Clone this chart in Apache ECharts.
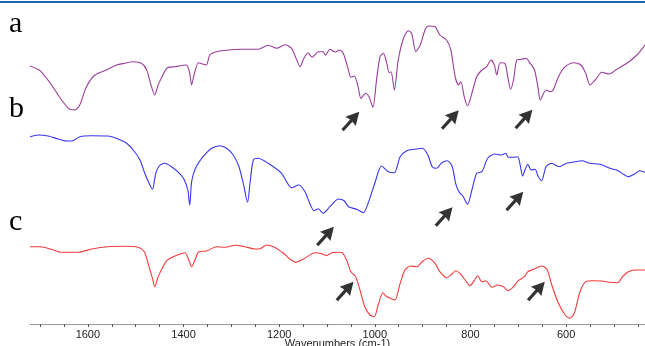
<!DOCTYPE html>
<html>
<head>
<meta charset="utf-8">
<script src="https://cdn.jsdelivr.net/npm/echarts@6/dist/echarts.min.js"></script>
<style>
  html, body { margin: 0; padding: 0; background: #fff; }
  #chart { width: 645px; height: 346px; }
</style>
</head>
<body>
<div id="chart"></div>
<script>
// wavenumber (cm-1), offset transmittance (stacked as in the figure)
const spectrumA = [
  [1721, 258], [1700, 253.3], [1676, 239], [1655, 224], [1638, 214.7], [1627, 214], [1617, 219],
  [1603, 237.3], [1585, 249], [1561, 254], [1540, 259], [1523, 260.7], [1505, 262.3], [1488, 260.7],
  [1477, 254], [1468, 239], [1460, 229], [1453, 239], [1435, 255.7], [1418, 257.3], [1394, 259],
  [1387, 250.7], [1383, 239], [1378, 249], [1369, 261.3], [1359, 259.7], [1352, 259], [1345, 269],
  [1331, 272.3], [1306, 274], [1278, 274.7], [1244, 274.7], [1223, 278.7], [1205, 275.7], [1188, 279.3],
  [1174, 275.7], [1166, 267.3], [1156, 257.3], [1150, 264], [1140, 271.3], [1131, 266.7], [1118, 272.3],
  [1108, 272.3], [1103, 268.7], [1094, 274.7], [1083, 272], [1073, 274], [1066, 270.7], [1057, 257.3],
  [1050, 246.7], [1043, 248], [1035, 237.3], [1029, 225.7], [1019, 230.7], [1012, 227.3], [1004, 216.7],
  [996, 245.7], [989, 267.3], [982, 270.7], [975, 260.7], [970, 251.3], [966, 252.3], [959, 234],
  [951, 264], [940, 285.7], [930, 293.3], [923, 290.7], [914, 272.3], [905, 279], [895, 294],
  [888, 298], [874, 297.3], [864, 289], [850, 284], [841, 274], [832, 247.3], [825, 239], [820, 242.3],
  [813, 227.3], [806, 218], [797, 230.7], [787, 247.3], [776, 254], [766, 257.3], [757, 264], [750, 259],
  [745, 249], [738, 261.3], [728, 260.7], [722, 247.3], [716, 234.7], [710, 244], [703, 264], [693, 264.7],
  [684, 265.7], [675, 260.7], [666, 254], [659, 237.3], [654, 224], [642, 234], [633, 232.3], [627, 234],
  [616, 247.3], [602, 257.3], [585, 261.3], [569, 259], [559, 250.7], [550, 239], [539, 244], [525, 251.7],
  [510, 250], [494, 254.7], [473, 260.7], [452, 269], [435, 279]
];
const spectrumB = [
  [1721, 187.3], [1704, 189], [1683, 188], [1662, 185], [1645, 183], [1631, 183.3], [1617, 187.3],
  [1592, 188.3], [1558, 188], [1537, 185], [1519, 180.7], [1505, 174], [1491, 164], [1481, 150.7],
  [1472, 140.7], [1465, 134.7], [1458, 150.7], [1451, 158], [1440, 160.7], [1425, 157.3], [1410, 151.3],
  [1399, 144.7], [1391, 134], [1387, 119], [1383, 142.3], [1375, 155.7], [1359, 167.3], [1341, 175.7],
  [1324, 178.3], [1310, 175.7], [1296, 169], [1284, 157.3], [1275, 140.7], [1266, 121.7], [1261, 140.7],
  [1254, 164], [1244, 165.7], [1223, 160.7], [1195, 150.7], [1174, 136.3], [1159, 139], [1146, 132.3],
  [1136, 120.7], [1127, 113.3], [1118, 115.3], [1108, 110.7], [1094, 117.3], [1076, 125], [1064, 123.3],
  [1055, 117.3], [1038, 114.7], [1024, 111.3], [1014, 120.7], [1000, 140.7], [986, 158], [972, 152.3],
  [959, 151.3], [947, 167.3], [933, 173.3], [916, 174.7], [901, 175.7], [889, 169], [880, 157.3],
  [871, 155.7], [860, 161.3], [848, 163.3], [838, 157.3], [831, 140.7], [824, 132.3], [815, 127.3],
  [806, 119.7], [797, 134], [787, 150.7], [776, 152.3], [764, 165.7], [749, 170], [735, 169], [726, 170.7],
  [721, 166.7], [710, 166.7], [701, 167.3], [696, 159], [691, 148], [686, 154], [680, 159.7], [673, 154],
  [665, 154.7], [658, 147.3], [651, 143.3], [642, 157.3], [630, 160.7], [615, 157.3], [599, 160.7],
  [581, 162.3], [567, 163.3], [550, 160.7], [529, 159.7], [508, 155.7], [491, 153.3], [480, 149.7],
  [470, 147.3], [457, 150], [446, 153.3], [435, 151.7]
];
const spectrumC = [
  [1721, 77.3], [1700, 77.3], [1676, 74.7], [1655, 71.7], [1620, 71.7], [1592, 75], [1558, 77.3],
  [1523, 77.7], [1495, 76.7], [1482, 72.3], [1474, 60.7], [1465, 45.7], [1460, 37.3], [1453, 47.3],
  [1435, 63.3], [1414, 68.7], [1397, 71.3], [1389, 64], [1383, 57.3], [1376, 64], [1368, 72.3],
  [1352, 73], [1331, 77.3], [1313, 76.7], [1292, 78.7], [1272, 77.3], [1251, 75], [1240, 75.3],
  [1226, 79], [1212, 77.3], [1191, 70.7], [1177, 64.7], [1165, 61.7], [1150, 64.7], [1125, 71.3],
  [1109, 70], [1101, 68.3], [1090, 71.3], [1073, 71.7], [1068, 71.3], [1059, 64], [1050, 52.3],
  [1040, 47.3], [1031, 34], [1021, 17.3], [1010, 9], [1001, 7.3], [993, 19], [983, 31.3], [977, 28],
  [968, 25.7], [958, 24], [947, 40.7], [937, 54], [926, 58], [912, 57.3], [901, 62.3], [888, 65.7],
  [874, 60.7], [864, 52.3], [850, 46.3], [841, 49], [831, 53.3], [822, 50.7], [811, 44], [801, 38.3],
  [792, 43.3], [785, 48.3], [776, 42.3], [768, 43.3], [755, 36.7], [743, 39], [731, 37.3], [721, 33.3],
  [710, 37.3], [700, 43.3], [687, 47.3], [680, 52.3], [668, 54.7], [651, 58], [640, 54.7], [630, 39],
  [616, 20.7], [602, 9], [592, 5.7], [583, 10.7], [571, 32.3], [559, 42.3], [545, 43.3], [525, 43],
  [508, 41.7], [492, 41.3], [482, 47.3], [470, 52.3], [456, 54], [435, 54]
];
// arrow centres (wavenumber, offset transmittance)
const arrowMarks = [
  [1050, 203], [842, 204.5], [688, 205],
  [1103, 88], [855, 107.5], [707, 123],
  [1062, 33], [662, 33]
];
const tickValues = [1700, 1650, 1600, 1550, 1500, 1450, 1400, 1350, 1300, 1250, 1200, 1150, 1100,
  1050, 1000, 950, 900, 850, 800, 750, 700, 650, 600, 550, 500, 450];
const labelValues = [1600, 1400, 1200, 1000, 800, 600];
const traceLabels = ['a', 'b', 'c'];

const ARROW = 'path://M7,0 L14,13 L8.6,12 L8.6,25 L5.4,25 L5.4,12 L0,13 Z';

function lineSeries(name, data, color) {
  return {
    name, type: 'line', data, smooth: 0.25, symbol: 'none',
    lineStyle: { color, width: 1.1 }, silent: true
  };
}

function buildOption() {
  return {
    animation: false,
    backgroundColor: '#fff',
    grid: { left: 30, right: 0, top: 0, bottom: 22, outerBoundsMode: 'none', containLabel: false },
    xAxis: {
      type: 'value', inverse: true, min: 435, max: 1721,
      name: 'Wavenumbers (cm-1)', nameLocation: 'middle', nameGap: 14, nameMoveOverlap: false,
      nameTextStyle: { fontFamily: 'Liberation Sans', fontSize: 11, color: '#222', verticalAlign: 'top' },
      axisLine: { lineStyle: { color: '#999', width: 1 } },
      axisTick: { customValues: tickValues, length: 3, lineStyle: { color: '#555' } },
      axisLabel: {
        customValues: labelValues, formatter: (v) => String(v),
        fontFamily: 'Liberation Sans', fontSize: 11, color: '#222', margin: 5
      },
      splitLine: { show: false }
    },
    yAxis: { type: 'value', min: 0, max: 324, show: false },
    graphic: [
      { type: 'rect', left: 0, top: 1, shape: { width: 645, height: 2 }, style: { fill: '#1f62b0' } },
      ...traceLabels.map((t, i) => ({
        type: 'text', left: 9, top: [9, 94, 207][i],
        style: { text: t, font: '30px "Liberation Serif"', fill: '#000' }
      }))
    ],
    series: [
      lineSeries('a', spectrumA, '#9b3c9b'),
      lineSeries('b', spectrumB, '#3535f0'),
      lineSeries('c', spectrumC, '#f23a3a'),
      {
        type: 'scatter', data: arrowMarks, symbol: ARROW, symbolSize: [14, 25],
        symbolRotate: -42, itemStyle: { color: '#000' }, silent: true, z: 5
      }
    ]
  };
}

const chart = echarts.init(document.getElementById('chart'), null, { renderer: 'canvas' });
chart.setOption(buildOption());
</script>
</body>
</html>
